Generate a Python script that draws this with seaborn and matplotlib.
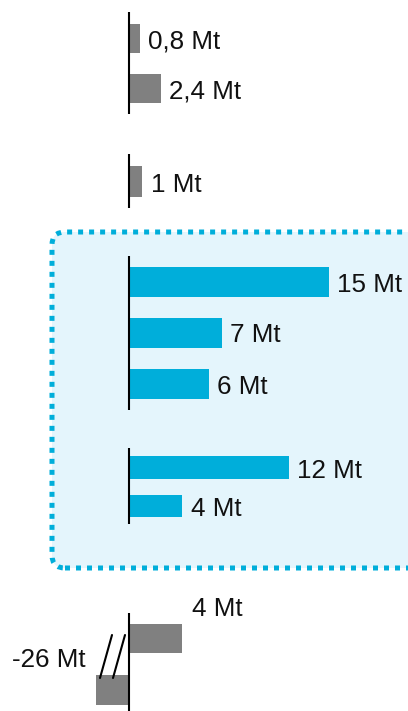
import matplotlib
matplotlib.use("Agg")
import matplotlib.pyplot as plt
import seaborn as sns
from matplotlib.patches import FancyBboxPatch
from matplotlib.lines import Line2D
from matplotlib.transforms import IdentityTransform, blended_transform_factory

# ---------------- data ----------------
group1_cats = ["A1", "A2"]
group1_vals = [0.8, 2.4]
group1_labels = ["0,8 Mt", "2,4 Mt"]

group2_cats = ["B1"]
group2_vals = [1.0]
group2_labels = ["1 Mt"]

group3_cats = ["C1", "C2", "C3"]
group3_vals = [15, 7, 6]
group3_labels = ["15 Mt", "7 Mt", "6 Mt"]

group4_cats = ["D1", "D2"]
group4_vals = [12, 4]
group4_labels = ["12 Mt", "4 Mt"]

group5_cats = ["E1", "E2"]
group5_vals = [4, -26]
group5_labels = ["4 Mt", "-26 Mt"]

# ---------------- style / layout ----------------
GRAY = "#808080"
BLUE = "#00AEDA"
BOX_FILL = "#E4F5FC"
TEXT = "#111111"
W, H = 408, 711
DPI = 100
ZERO_X = 129.0
PX_PER_MT = 13.3
FS = 18.7

sns.set_theme(style="white")
plt.rcParams["font.family"] = ["Liberation Sans", "DejaVu Sans"]

fig = plt.figure(figsize=(W / DPI, H / DPI), dpi=DPI)
fig.patch.set_facecolor("white")

# highlighted box (display pixels)
box = FancyBboxPatch((52, H - 568), 420, 336,
                     boxstyle="round,pad=0,rounding_size=13",
                     transform=IdentityTransform(),
                     facecolor=BOX_FILL, edgecolor=BLUE,
                     linewidth=3.6, linestyle=(0, (1, 1.2)), zorder=-5)
fig.add_artist(box)

# (cats, vals, labels, color, top_px, bottom_px, first_center_px, spacing_px, bar_h_px, left_px)
groups = [
    (group1_cats, group1_vals, group1_labels, GRAY, 12, 114, 38, 50, 29, 0),
    (group2_cats, group2_vals, group2_labels, GRAY, 154, 208, 181.5, 50, 31, 0),
    (group3_cats, group3_vals, group3_labels, BLUE, 256, 410, 281.5, 51, 30, 0),
    (group4_cats, group4_vals, group4_labels, BLUE, 448, 524, 467.5, 38.5, 22.5, 0),
    (group5_cats, group5_vals, group5_labels, GRAY, 613, 711, 638.5, 51.5, 29.5, 96),
]

for gi, (cats, vals, labels, color, top, bottom, first, spacing, bar_h, left) in enumerate(groups):
    ax = fig.add_axes([left / W, 1 - bottom / H, (W - left) / W, (bottom - top) / H])
    ax.set_facecolor("none")
    sns.barplot(x=vals, y=cats, orient="h", color=color, saturation=1,
                width=bar_h / spacing, errorbar=None, linewidth=0, ax=ax)
    ax.set_xlim(-(ZERO_X - left) / PX_PER_MT, (W - ZERO_X) / PX_PER_MT)
    ax.set_ylim((bottom - first) / spacing, (top - first) / spacing)
    ax.axvline(0, color="black", lw=1.5, zorder=5)
    for s in ax.spines.values():
        s.set_visible(False)
    ax.set_xticks([])
    ax.set_yticks([])
    ax.set_xlabel("")
    ax.set_ylabel("")

    if gi < 4:
        for i, (v, lab) in enumerate(zip(vals, labels)):
            ax.annotate(lab, (v, i), xytext=(6.0, -7.2), textcoords="offset points",
                        ha="left", va="baseline", fontsize=FS, color=TEXT)
    else:
        # positive bar: label above the bar end
        ax.annotate(labels[0], (vals[0], 0), xytext=(7.2, 16.2), textcoords="offset points",
                    ha="left", va="baseline", fontsize=FS, color=TEXT)
        # truncated negative bar: label at the visible left edge, above
        tr = blended_transform_factory(ax.transAxes, ax.transData)
        ax.annotate(labels[1], (0, 1), xycoords=tr, xytext=(-7.2, 16.5),
                    textcoords="offset points", ha="right", va="baseline",
                    fontsize=FS, color=TEXT)

# axis-break marks
for x0 in (100, 113):
    fig.add_artist(Line2D([x0, x0 + 12], [H - 678, H - 635], color="black", lw=1.5,
                          transform=IdentityTransform()))

fig.savefig("out.png", dpi=DPI, facecolor="white")
